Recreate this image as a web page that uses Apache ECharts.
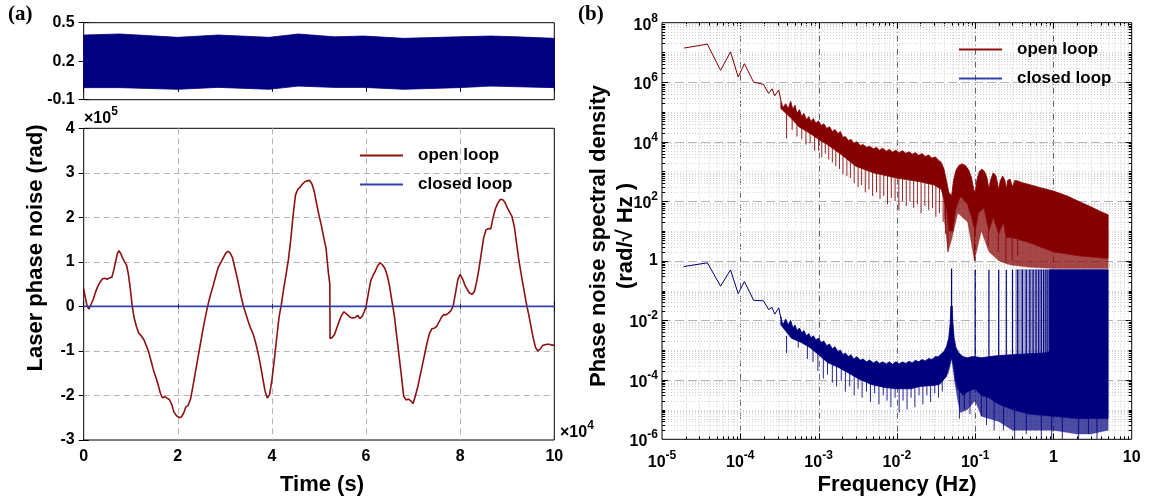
<!DOCTYPE html>
<html>
<head>
<meta charset="utf-8">
<script src="https://cdn.jsdelivr.net/npm/echarts@6/dist/echarts.min.js"></script>
<style>
html,body{margin:0;padding:0;background:#fff;}
#chart{width:1149px;height:497px;}
</style>
</head>
<body>
<div id="chart"></div>
<script>
// ---------- (a) time domain: time in units of 1e4 s, phase in units of 1e5 rad ----------
const openLoopTime = [
  [0.00,0.40],[0.03,0.22],[0.07,0.02],[0.11,-0.06],[0.15,-0.02],[0.20,0.15],[0.25,0.32],[0.30,0.45],
  [0.35,0.55],[0.40,0.62],[0.45,0.63],[0.50,0.61],[0.55,0.64],[0.60,0.66],[0.64,0.82],[0.68,1.02],
  [0.72,1.20],[0.75,1.25],[0.79,1.18],[0.83,1.08],[0.87,1.00],[0.91,0.93],[0.95,0.72],[0.99,0.40],
  [1.03,0.02],[1.07,-0.25],[1.12,-0.45],[1.17,-0.60],[1.22,-0.66],[1.28,-0.75],[1.33,-0.88],[1.38,-1.02],
  [1.43,-1.22],[1.48,-1.42],[1.53,-1.58],[1.58,-1.75],[1.63,-1.95],[1.67,-2.05],[1.72,-2.03],[1.77,-2.06],
  [1.82,-2.09],[1.87,-2.20],[1.92,-2.38],[1.97,-2.45],[2.03,-2.50],[2.08,-2.48],[2.13,-2.38],[2.17,-2.26],
  [2.22,-2.22],[2.27,-2.08],[2.32,-1.80],[2.37,-1.50],[2.42,-1.20],[2.47,-0.90],[2.52,-0.60],[2.57,-0.32],
  [2.62,-0.06],[2.66,0.12],[2.71,0.32],[2.76,0.50],[2.81,0.70],[2.86,0.88],[2.91,0.98],[2.96,1.08],
  [3.01,1.18],[3.06,1.24],[3.11,1.20],[3.16,1.10],[3.20,0.92],[3.25,0.70],[3.30,0.45],[3.35,0.20],
  [3.40,-0.02],[3.45,-0.18],[3.50,-0.35],[3.55,-0.50],[3.60,-0.62],[3.65,-0.80],[3.70,-1.02],[3.75,-1.28],
  [3.80,-1.58],[3.85,-1.88],[3.90,-2.06],[3.95,-1.98],[4.00,-1.65],[4.05,-1.20],[4.10,-0.72],[4.15,-0.25],
  [4.20,0.05],[4.25,0.40],[4.30,0.72],[4.35,1.05],[4.40,1.50],[4.45,2.05],[4.50,2.50],[4.55,2.63],
  [4.60,2.68],[4.65,2.75],[4.70,2.80],[4.75,2.82],[4.80,2.83],[4.85,2.75],[4.90,2.58],[4.95,2.30],
  [5.00,2.05],[5.05,1.82],[5.10,1.55],[5.15,1.30],[5.20,0.75],[5.23,0.50],[5.235,-0.72],[5.28,-0.70],
  [5.33,-0.63],[5.38,-0.48],[5.43,-0.33],[5.48,-0.20],[5.53,-0.12],[5.57,-0.10],[5.62,-0.20],[5.67,-0.25],
  [5.72,-0.26],[5.77,-0.25],[5.82,-0.20],[5.87,-0.27],[5.92,-0.22],[5.96,-0.12],[6.00,0.00],[6.05,0.30],
  [6.10,0.58],[6.15,0.70],[6.20,0.80],[6.25,0.92],[6.30,0.98],[6.35,0.93],[6.40,0.85],[6.45,0.70],
  [6.50,0.45],[6.55,0.12],[6.60,-0.20],[6.65,-0.65],[6.70,-1.10],[6.75,-1.55],[6.80,-2.02],[6.85,-2.10],
  [6.90,-2.08],[6.95,-2.12],[7.00,-2.18],[7.05,-2.00],[7.10,-1.80],[7.15,-1.55],[7.20,-1.30],[7.25,-1.05],
  [7.30,-0.80],[7.35,-0.60],[7.40,-0.50],[7.45,-0.49],[7.50,-0.45],[7.55,-0.35],[7.60,-0.25],[7.65,-0.18],
  [7.70,-0.19],[7.75,-0.15],[7.80,-0.10],[7.85,0.00],[7.90,0.30],[7.95,0.60],[8.00,0.72],[8.05,0.62],
  [8.10,0.48],[8.15,0.38],[8.20,0.30],[8.25,0.27],[8.30,0.33],[8.35,0.55],[8.40,0.85],[8.45,1.20],
  [8.50,1.55],[8.55,1.72],[8.60,1.75],[8.65,1.74],[8.70,2.00],[8.75,2.20],[8.80,2.32],[8.85,2.40],
  [8.90,2.40],[8.95,2.34],[9.00,2.22],[9.05,2.12],[9.10,2.02],[9.15,1.80],[9.20,1.40],[9.25,1.02],
  [9.30,0.70],[9.35,0.40],[9.40,0.10],[9.45,-0.15],[9.50,-0.42],[9.55,-0.70],[9.60,-0.92],[9.65,-1.00],
  [9.70,-0.96],[9.75,-0.88],[9.80,-0.86],[9.85,-0.85],[9.90,-0.85],[9.95,-0.87],[10.00,-0.87]
];
const closedLoopTime = [[0,0],[2,0],[4,0],[6,0],[8,0],[10,0]];
// residual of the locked loop (rad): envelope of the fast oscillation
const residualUpper = [[0,0.404],[0.77,0.412],[2.0,0.386],[2.86,0.404],[3.94,0.386],[4.56,0.412],[5.33,0.39],[5.95,0.396],[6.8,0.378],[7.96,0.39],[8.65,0.396],[9.2,0.39],[10,0.378]];
const residualLower = [[0,-0.006],[0.77,-0.006],[2.0,-0.019],[2.86,-0.004],[3.94,-0.019],[4.56,0.006],[5.33,-0.004],[5.95,-0.004],[6.8,-0.019],[7.96,-0.006],[8.65,0.006],[10,-0.006]];

// ---------- (b) phase noise spectral density: [frequency (Hz), rad/sqrt(Hz)] ----------
// open loop
const openHead = [[1.9e-5,1.4e7],[3.8e-5,1.9e7],[5.6e-5,2.5e6],[7.5e-5,1.05e7],[9.4e-5,1.5e6],[1.13e-4,4.2e6],
  [1.48e-4,1.0e6],[1.98e-4,8.5e5],[2.3e-4,4.2e5],[2.55e-4,6.0e5],[2.75e-4,3.5e5],[3.1e-4,5.5e5],[3.3e-4,2.4e5]];
const openUpper = [[3.3e-4,2.4e5],[3.5e-4,1.4e5],[3.8e-4,1.9e5],[4.1e-4,1.3e5],[4.4e-4,2.3e5],[4.7e-4,1.2e5],
  [5e-4,1.7e5],[5.3e-4,9e4],[5.7e-4,1.2e5],[6.1e-4,7e4],[6.5e-4,9e4],[7e-4,5.5e4],[7.5e-4,7e4],[8e-4,4.8e4],
  [8.6e-4,6e4],[9.2e-4,4.2e4],[1e-3,5e4],[1.08e-3,3.5e4],[1.17e-3,4e4],[1.27e-3,2.8e4],[1.38e-3,3.2e4],
  [1.5e-3,2.2e4],[1.62e-3,2.6e4],[1.76e-3,1.9e4],[1.9e-3,2.2e4],[2.05e-3,1.4e4],[2.2e-3,1.5e4],[2.4e-3,1.1e4],
  [2.6e-3,1.2e4],[2.8e-3,9e3],[3.1e-3,1e4],[3.4e-3,7.5e3],[3.7e-3,8e3],[4.1e-3,6.5e3],[4.5e-3,7e3],[5e-3,5.8e3],
  [5.5e-3,6.5e3],[6e-3,5.2e3],[6.6e-3,6e3],[7.3e-3,4.8e3],[8e-3,5.5e3],[8.8e-3,4.5e3],[9.7e-3,5.2e3],
  [1.07e-2,4.3e3],[1.18e-2,5e3],[1.3e-2,4.1e3],[1.43e-2,4.6e3],[1.57e-2,3.8e3],[1.73e-2,4.3e3],[1.9e-2,3.5e3],
  [2.1e-2,4e3],[2.3e-2,3.2e3],[2.55e-2,3.6e3],[2.8e-2,2.8e3],[3.1e-2,3.1e3],[3.4e-2,2.4e3],[3.7e-2,2e3],
  [4e-2,1.2e3],[4.3e-2,5e2],[4.6e-2,2e2],[5e-2,1.5e2],[5.3e-2,5e2],[5.7e-2,1.1e3],[6.2e-2,1.6e3],[6.8e-2,1.8e3],
  [7.5e-2,1.6e3],[8.3e-2,1.1e3],[9e-2,6e2],[9.6e-2,2.5e2],[0.1,2e2],[0.105,5e2],[0.113,1e3],[0.122,1.2e3],
  [0.132,1e3],[0.142,6e2],[0.15,2.5e2],[0.157,5e2],[0.17,9e2],[0.185,7e2],[0.2,2.5e2],[0.21,5e2],[0.225,7e2],
  [0.24,5e2],[0.25,2.5e2],[0.26,5e2],[0.28,5.5e2],[0.3,3e2],[0.32,5e2],[0.35,4.8e2],[0.4,4.2e2],[0.5,3.6e2],
  [0.7,2.8e2],[1,2.2e2],[1.5,1.5e2],[2,1.05e2],[3,6.5e1],[4,4.5e1],[5,3.5e1]];
const openCore = [[3.3e-4,1.3e5],[4.5e-4,6e4],[5.6e-4,3.2e4],[7.8e-4,1.9e4],[1e-3,1.2e4],[1.3e-3,8e3],
  [2e-3,3.5e3],[3e-3,1.5e3],[5e-3,9e2],[1e-2,6e2],[2e-2,4.5e2],[3e-2,3.5e2],[3.7e-2,2.5e2],[4e-2,1.2e2],
  [4.4e-2,4e1],[4.7e-2,1e1],[5.2e-2,1e1],[5.6e-2,5e1],[6.5e-2,1.5e2],[8e-2,8e1],[9e-2,3e1],[0.1,1e1],
  [0.11,4e1],[0.13,6e1],[0.15,1e1],[0.17,3e1],[0.2,8],[0.23,2e1],[0.25,6],[0.3,6],[0.5,4],[1,2],[2,1.5],[5,1.2]];
const openFloor = [[0.04,3e1],[4.5e-2,2],[5e-2,5],[6e-2,4e1],[8e-2,2e1],[0.098,1],[0.12,1e1],[0.15,2],
  [0.2,1],[0.25,0.8],[0.3,0.7],[0.5,0.6],[1,0.55],[5,0.55]];
// downward noise excursions: [frequency, from, to]
const openDips = [[3.9e-4,1.2e5,1.3e4],[4.6e-4,6e4,2.5e4],[5.3e-4,4e4,1.5e4],[6.1e-4,3e4,1.2e4],[6.9e-4,2.5e4,8e3],
  [7.8e-4,2e4,9e3],[8.9e-4,1.6e4,5e3],[1.0e-3,1.3e4,5e3],[1.1e-3,1.2e4,3e3],[1.22e-3,1e4,4e3],[1.35e-3,8e3,2.5e3],
  [1.5e-3,7e3,2e3],[1.66e-3,6e3,1.5e3],[1.85e-3,5e3,1.2e3],[2.05e-3,4e3,8e2],[2.3e-3,3e3,7e2],[2.55e-3,2.5e3,6e2],
  [2.85e-3,2e3,4e2],[3.2e-3,1.6e3,3e2],[3.55e-3,1.4e3,3.5e2],[3.95e-3,1.2e3,2e2],[4.4e-3,1.1e3,2.5e2],
  [4.9e-3,1e3,1.5e2],[5.5e-3,9e2,2e2],[6.1e-3,8e2,1.2e2],[6.8e-3,8e2,1.5e2],[7.6e-3,7e2,8e1],[8.5e-3,7e2,1.3e2],
  [9.5e-3,6e2,1e2],[1.06e-2,6e2,5e1],[1.18e-2,6e2,1e2],[1.32e-2,5e2,7e1],[1.47e-2,5e2,1e2],[1.64e-2,5e2,6e1],
  [1.83e-2,5e2,8e1],[2.04e-2,4.5e2,4e1],[2.28e-2,4.5e2,7e1],[2.55e-2,4e2,5e1],[2.85e-2,4e2,6e1],[3.15e-2,3.5e2,3e1],
  [3.5e-2,3e2,4e1],[3.9e-2,2e2,2e1],[4.2e-2,1e2,8],[4.5e-2,4e1,2],[0.098,1e1,1],[0.147,1e1,3],[0.197,8,2],
  [0.247,6,1],[0.297,6,1],[0.35,5,1.5]];

// closed loop
const closedHead = [[1.9e-5,0.64],[3.8e-5,0.85],[5.6e-5,0.14],[7.5e-5,0.49],[9.4e-5,0.079],[1.13e-4,0.2],
  [1.48e-4,0.047],[1.98e-4,0.045],[2.3e-4,0.023],[2.55e-4,0.027],[2.75e-4,0.016],[3.1e-4,0.026],[3.3e-4,0.012]];
const closedUpper = [[3.3e-4,1.3e-2],[3.5e-4,7e-3],[3.8e-4,1.1e-2],[4.1e-4,7e-3],[4.4e-4,1e-2],[4.7e-4,5.5e-3],
  [5e-4,7e-3],[5.3e-4,4.5e-3],[5.7e-4,5.5e-3],[6.1e-4,3.8e-3],[6.5e-4,4.5e-3],[7e-4,3e-3],[7.5e-4,3.6e-3],
  [8e-4,2.6e-3],[8.6e-4,3e-3],[9.2e-4,2.2e-3],[1e-3,2.5e-3],[1.08e-3,1.8e-3],[1.17e-3,2e-3],[1.27e-3,1.4e-3],
  [1.38e-3,1.6e-3],[1.5e-3,1.1e-3],[1.62e-3,1.3e-3],[1.76e-3,9e-4],[1.9e-3,1e-3],[2.05e-3,7e-4],[2.2e-3,8e-4],
  [2.4e-3,6e-4],[2.6e-3,7e-4],[2.8e-3,5e-4],[3.1e-3,6e-4],[3.4e-3,4.5e-4],[3.7e-3,5e-4],[4.1e-3,4e-4],
  [4.5e-3,4.6e-4],[5e-3,3.7e-4],[5.5e-3,4.3e-4],[6e-3,3.5e-4],[6.6e-3,4e-4],[7.3e-3,3.4e-4],[8e-3,4e-4],
  [8.8e-3,3.3e-4],[9.7e-3,4e-4],[1.07e-2,3.4e-4],[1.18e-2,4e-4],[1.3e-2,3.5e-4],[1.43e-2,4.2e-4],[1.57e-2,3.7e-4],
  [1.73e-2,4.5e-4],[1.9e-2,4e-4],[2.1e-2,4.8e-4],[2.3e-2,4.3e-4],[2.55e-2,5.2e-4],[2.8e-2,4.8e-4],[3.1e-2,6e-4],
  [3.4e-2,6e-4],[3.7e-2,7.5e-4],[4e-2,9e-4],[4.3e-2,1.3e-3],[4.6e-2,2.5e-3],[4.8e-2,8e-3],[4.9e-2,3e-2],
  [5.1e-2,3e-2],[5.2e-2,8e-3],[5.4e-2,2.5e-3],[5.7e-2,1.2e-3],[6.2e-2,8e-4],[7e-2,6e-4],[8e-2,5.5e-4],
  [0.09,6e-4],[0.1,6e-4],[0.12,5.5e-4],[0.15,6e-4],[0.2,6.5e-4],[0.3,7e-4],[0.5,7.5e-4],[0.8,8e-4],[1,1e-3],[5,1e-3]];
const closedCore = [[3.3e-4,7e-3],[4.5e-4,2.5e-3],[6e-4,1.8e-3],[7.8e-4,1.2e-3],[1e-3,7e-4],[1.3e-3,3.8e-4],
  [1.8e-3,2.6e-4],[2.5e-3,1.6e-4],[3.2e-3,1.1e-4],[4.7e-3,7e-5],[7e-3,5.5e-5],[1e-2,5e-5],[1.5e-2,5e-5],
  [2e-2,6e-5],[3e-2,6.5e-5],[3.5e-2,7e-5],[4.3e-2,1.3e-4],[4.7e-2,3e-4],[5e-2,6e-4],[5.3e-2,3e-4],[5.6e-2,1e-4],
  [6e-2,5e-5],[7e-2,3e-5],[8e-2,4e-5],[0.1,5e-5],[0.12,3e-5],[0.15,2.5e-5],[0.2,1.5e-5],[0.3,1e-5],[0.5,7e-6],
  [1,6e-6],[2,5e-6],[5,5e-6]];
const closedFloor = [[4.5e-2,1.5e-4],[5e-2,5e-4],[5.5e-2,8e-5],[6e-2,2e-5],[6.5e-2,8e-6],[8e-2,1e-5],[0.1,2e-5],
  [0.12,6e-6],[0.2,4e-6],[0.3,2e-6],[0.5,2e-6],[1,2e-6],[2,1.5e-6],[3,1.5e-6],[5,2e-6]];
const closedDips = [[3.9e-4,3e-3,8e-4],[5.5e-4,2.5e-3,1.2e-3],[7.2e-4,1.5e-3,5e-4],[8.5e-4,1.2e-3,4e-4],
  [9.8e-4,9e-4,2e-4],[1.15e-3,6e-4,1.1e-4],[1.3e-3,5e-4,1.5e-4],[1.5e-3,4e-4,8e-5],[1.7e-3,3.5e-4,6e-5],
  [1.95e-3,3e-4,9e-5],[2.2e-3,2.5e-4,4e-5],[2.5e-3,2.3e-4,6e-5],[2.85e-3,2e-4,3e-5],[3.2e-3,2e-4,5e-5],
  [3.6e-3,1.8e-4,2.5e-5],[4.1e-3,1.8e-4,4e-5],[4.6e-3,1.7e-4,1.8e-5],[5.2e-3,1.7e-4,3.5e-5],[5.9e-3,1.6e-4,1.5e-5],
  [6.7e-3,1.6e-4,3e-5],[7.5e-3,1.5e-4,2e-5],[8.4e-3,1.5e-4,1.2e-5],[9.5e-3,1.5e-4,2.5e-5],[1.07e-2,1.5e-4,8e-6],
  [1.2e-2,1.6e-4,2e-5],[1.35e-2,1.6e-4,1e-5],[1.52e-2,1.7e-4,2.5e-5],[1.7e-2,1.7e-4,1.2e-5],[1.92e-2,1.8e-4,3e-5],
  [2.15e-2,1.8e-4,1.5e-5],[2.42e-2,2e-4,3e-5],[2.7e-2,2e-4,1.8e-5],[3.05e-2,2.2e-4,3.5e-5],[3.4e-2,2.4e-4,2.5e-5],
  [3.8e-2,2.8e-4,4e-5],[6.3e-2,1.2e-4,5e-6],[7.3e-2,1e-4,1e-5],[8.6e-2,1e-4,7e-6],[0.12,8e-5,6e-6],
  [0.14,7e-5,3e-6],[0.175,6e-5,2e-6],[0.23,5e-5,2e-6],[0.32,4e-5,1e-6],[0.45,3e-5,1.5e-6],[0.7,3e-5,1e-6],
  [0.95,3e-5,1e-6],[1.3,2.5e-5,1e-6],[2.1,2e-5,1e-6],[2.8,2e-5,1.5e-6],[3.6,2e-5,1e-6]];
// residual harmonics of the 0.05 Hz disturbance: [frequency, peak, foot]
const closedSpikes = [[0.05,0.55,1e-3],[0.1,0.5,6e-4],[0.15,0.5,6e-4],[0.2,0.5,6e-4],[0.25,0.5,6e-4],[0.3,0.5,7e-4],
  [0.35,0.5,7e-4],[0.4,0.5,7e-4],[0.45,0.5,7e-4],[0.5,0.5,7e-4],[0.55,0.5,7e-4],[0.6,0.5,7e-4],[0.65,0.5,8e-4],
  [0.7,0.5,8e-4],[0.75,0.5,8e-4],[0.8,0.5,8e-4],[0.85,0.5,8e-4],[0.9,0.5,8e-4],[0.95,0.5,8e-4],[1.0,0.5,1e-3]];
const closedCombLight = [[0.33,0.5],[0.9,0.5]];
const closedCombLightFoot = [[0.33,7e-4],[0.9,8e-4]];
const closedComb = [[0.9,0.5],[5,0.5]];
const closedCombFoot = [[0.9,8e-4],[5,1e-3]];

// ---------- styling ----------
const SANS = 'Liberation Sans, Arial, sans-serif';
const SERIF = 'Liberation Serif, Times New Roman, serif';
const RED = '#850000';
const NAVY = '#00007f';
const LINE_RED = '#8e1010';
const LINE_BLUE = '#3341a8';

const chart = echarts.init(document.getElementById('chart'), null, {renderer: 'canvas'});

const tickStyle = {show: true, inside: true, length: 5, lineStyle: {color: '#000', width: 1}};
const labelStyle = {color: '#000', fontSize: 16, fontWeight: 'bold', fontFamily: SANS};

function powLabel(v) {
  const e = Math.round(Math.log10(v));
  if (e === 0) return '{b|1}';
  if (e === 1) return '{b|10}';
  return '{b|10}{e|' + e + '}';
}
const powRich = {
  b: {fontSize: 16, fontWeight: 'bold', fontFamily: SANS, color: '#000', verticalAlign: 'bottom'},
  e: {fontSize: 12, fontWeight: 'bold', fontFamily: SANS, color: '#000', verticalAlign: 'bottom', padding: [0, 0, 9, 0]}
};

function linAxis(grid, pos, min, max, interval, showLabel, fmt) {
  return {
    type: 'value', gridIndex: grid, position: pos, min, max, interval,
    axisLine: {show: false}, axisTick: tickStyle, splitLine: {show: false},
    axisLabel: showLabel ? Object.assign({show: true, margin: 9, formatter: fmt}, labelStyle) : {show: false}
  };
}
function logAxis(grid, pos, min, max, interval, showLabel, margin, fmt) {
  return {
    type: 'log', logBase: 10, gridIndex: grid, position: pos, min, max, interval,
    axisLine: {show: false}, axisTick: {show: false}, splitLine: {show: false},
    axisLabel: showLabel ? {show: true, margin, formatter: fmt || powLabel, rich: powRich} : {show: false}
  };
}

// filled region between two envelopes, mapped through the axes
function band(upper, lower, fill, xi, yi, z, stroke) {
  return {
    type: 'custom', xAxisIndex: xi, yAxisIndex: yi, z, silent: true, clip: true,
    data: [upper[0]],
    renderItem(params, api) {
      const pts = upper.map(p => api.coord(p)).concat(lower.slice().reverse().map(p => api.coord(p)));
      return {type: 'polygon', shape: {points: pts}, style: {fill, stroke: stroke || fill, lineWidth: 0.8}};
    }
  };
}
// vertical strokes [x, y1, y2]
function strokes(list, color, width, xi, yi, z) {
  return {
    type: 'custom', xAxisIndex: xi, yAxisIndex: yi, z, silent: true, clip: true,
    data: list,
    renderItem(params, api) {
      const a = api.coord([api.value(0), api.value(1)]);
      const b = api.coord([api.value(0), api.value(2)]);
      return {type: 'line', shape: {x1: a[0], y1: a[1], x2: b[0], y2: b[1]}, style: {stroke: color, lineWidth: width}};
    }
  };
}

// log-grid decorations of panel (b)
const psdGrid = {
  type: 'custom', xAxisIndex: 4, yAxisIndex: 4, z: 1, silent: true,
  data: [[1e-3, 1]],
  renderItem(params, api) {
    const cs = params.coordSys;
    const x0 = cs.x, x1 = cs.x + cs.width, y0 = cs.y, y1 = cs.y + cs.height;
    const kids = [];
    const seg = (a, b, c, d, style) => kids.push({type: 'line', shape: {x1: a, y1: b, x2: c, y2: d}, style});
    const minorSt = {stroke: '#d2d2d2', lineWidth: 1, lineDash: [1, 2]};
    const majorV = {stroke: '#666', lineWidth: 1, lineDash: [6, 3, 1, 3]};
    const majorH = {stroke: '#b4b4b4', lineWidth: 1.2, lineDash: [9, 4]};
    const tk = {stroke: '#000', lineWidth: 1};
    for (let n = -5; n <= 0; n++) {
      for (let k = 1; k <= 9; k++) {
        const f = k * Math.pow(10, n);
        if (f <= 1e-5 * 1.001) continue;
        const px = Math.round(api.coord([f, 1])[0]) + 0.5;
        seg(px, y0, px, y1, k === 1 ? majorV : minorSt);
        const t = k === 1 ? 6 : 3;
        seg(px, y1, px, y1 - t, tk); seg(px, y0, px, y0 + t, tk);
      }
    }
    for (let n = -6; n <= 7; n++) {
      for (let k = 1; k <= 9; k++) {
        const v = k * Math.pow(10, n);
        if (v <= 1e-6 * 1.001) continue;
        const py = Math.round(api.coord([1, v])[1]) + 0.5;
        const major = (k === 1 && n % 2 === 0);
        seg(x0, py, x1, py, major ? majorH : minorSt);
        const t = major ? 6 : 3;
        seg(x0, py, x0 + t, py, tk); seg(x1, py, x1 - t, py, tk);
      }
    }
    return {type: 'group', children: kids};
  }
};

// dashed grid of the time-domain panel
const timeGrid = {
  type: 'custom', xAxisIndex: 2, yAxisIndex: 2, z: 1, silent: true,
  data: [[0, 0]],
  renderItem(params, api) {
    const cs = params.coordSys;
    const kids = [];
    const st = {stroke: '#b4b4b4', lineWidth: 1, lineDash: [6, 4]};
    [2, 4, 6, 8].forEach(t => {
      const px = Math.round(api.coord([t, 0])[0]) + 0.5;
      kids.push({type: 'line', shape: {x1: px, y1: cs.y, x2: px, y2: cs.y + cs.height}, style: st});
    });
    [-2, -1, 0, 1, 2, 3].forEach(v => {
      const py = Math.round(api.coord([0, v])[1]) + 0.5;
      kids.push({type: 'line', shape: {x1: cs.x, y1: py, x2: cs.x + cs.width, y2: py}, style: st});
    });
    return {type: 'group', children: kids};
  }
};

const legendText = {color: '#000', fontSize: 17, fontWeight: 'bold', fontFamily: SANS, padding: [0, 0, 0, 10]};
const gridBox = {show: true, borderColor: '#000', borderWidth: 1, backgroundColor: 'transparent', outerBoundsMode: 'none'};
const supRich = {
  m: {font: 'bold 16px ' + SANS, fill: '#000', verticalAlign: 'bottom'},
  e: {font: 'bold 12px ' + SANS, fill: '#000', verticalAlign: 'bottom', padding: [0, 0, 9, 0]}
};
const from = (list, f0) => list.filter(p => p[0] >= f0);

const option = {
  backgroundColor: '#fff',
  animation: false,
  grid: [
    Object.assign({left: 83.7, top: 22.7, width: 470.6, height: 77}, gridBox),
    Object.assign({left: 83.7, top: 128.3, width: 470.6, height: 311.7}, gridBox),
    Object.assign({left: 662, top: 22.7, width: 469.7, height: 416.6}, gridBox)
  ],
  xAxis: [
    linAxis(0, 'bottom', 0, 10, 2, false),
    linAxis(0, 'top', 0, 10, 2, false),
    linAxis(1, 'bottom', 0, 10, 2, true, v => String(v)),
    linAxis(1, 'top', 0, 10, 2, false),
    logAxis(2, 'bottom', 1e-5, 10, 1, true, 10),
    logAxis(2, 'top', 1e-5, 10, 1, false)
  ],
  yAxis: [
    linAxis(0, 'left', -0.1, 0.5, 0.3, true, v => v.toFixed(1)),
    linAxis(0, 'right', -0.1, 0.5, 0.3, false),
    linAxis(1, 'left', -3, 4, 1, true, v => String(Math.round(v))),
    linAxis(1, 'right', -3, 4, 1, false),
    logAxis(2, 'left', 1e-6, 1e8, 2, true, 4, v => (Math.round(Math.log10(v)) % 2 === 0 ? powLabel(v) : '')),
    logAxis(2, 'right', 1e-6, 1e8, 2, false)
  ],
  legend: [
    {data: ['open loop', 'closed loop'], left: 355, top: 142, orient: 'vertical', icon: 'rect',
      itemWidth: 43, itemHeight: 2, itemGap: 12, selectedMode: false, textStyle: legendText},
    {data: ['open loop', 'closed loop'], left: 954, top: 36, orient: 'vertical', icon: 'rect',
      itemWidth: 43, itemHeight: 2, itemGap: 12, selectedMode: false, textStyle: legendText}
  ],
  series: [
    band(residualUpper, residualLower, '#000080', 0, 0, 3),
    timeGrid,
    {name: 'open loop', type: 'line', xAxisIndex: 2, yAxisIndex: 2, data: openLoopTime, showSymbol: false,
      lineStyle: {color: LINE_RED, width: 1.6}, itemStyle: {color: LINE_RED}, z: 3},
    {name: 'closed loop', type: 'line', xAxisIndex: 2, yAxisIndex: 2, data: closedLoopTime, showSymbol: false,
      lineStyle: {color: LINE_BLUE, width: 1.6}, itemStyle: {color: LINE_BLUE}, z: 4},
    psdGrid,
    // open loop spectrum
    {type: 'line', xAxisIndex: 4, yAxisIndex: 4, data: openHead, showSymbol: false, silent: true,
      lineStyle: {color: RED, width: 1}, z: 3},
    band(from(openCore, 0.04), openFloor, 'rgba(133,0,0,0.72)', 4, 4, 3, 'rgba(133,0,0,0.3)'),
    strokes(openDips, 'rgba(133,0,0,0.85)', 1, 4, 4, 3),
    band(openUpper, openCore, RED, 4, 4, 3),
    // closed loop spectrum
    {type: 'line', xAxisIndex: 4, yAxisIndex: 4, data: closedHead, showSymbol: false, silent: true,
      lineStyle: {color: NAVY, width: 1}, z: 4},
    band(from(closedCore, 0.045), closedFloor, 'rgba(0,0,127,0.7)', 4, 4, 4, 'rgba(0,0,127,0.3)'),
    strokes(closedDips, 'rgba(0,0,127,0.85)', 1, 4, 4, 4),
    band(closedUpper, closedCore, NAVY, 4, 4, 4),
    band(closedCombLight, closedCombLightFoot, 'rgba(0,0,127,0.35)', 4, 4, 4),
    strokes(closedSpikes, NAVY, 1.2, 4, 4, 4),
    band(closedComb, closedCombFoot, NAVY, 4, 4, 4)
  ],
  graphic: [
    {type: 'text', left: 8, top: 4, style: {text: '(a)', font: 'bold 21px ' + SERIF, fill: '#000'}},
    {type: 'text', left: 578, top: 4, style: {text: '(b)', font: 'bold 21px ' + SERIF, fill: '#000'}},
    {type: 'text', left: 84, top: 106, style: {text: '{m|×10}{e|5}', rich: supRich}},
    {type: 'text', left: 560, top: 420, style: {text: '{m|×10}{e|4}', rich: supRich}},
    {type: 'text', x: 322, y: 485, style: {text: 'Time (s)', font: 'bold 22px ' + SANS, fill: '#000', align: 'center', verticalAlign: 'middle'}},
    {type: 'text', x: 897, y: 485, style: {text: 'Frequency (Hz)', font: 'bold 22px ' + SANS, fill: '#000', align: 'center', verticalAlign: 'middle'}},
    {type: 'text', x: 36, y: 248, rotation: Math.PI / 2, style: {text: 'Laser phase noise (rad)', font: 'bold 22px ' + SANS, fill: '#000', align: 'center', verticalAlign: 'middle'}},
    {type: 'text', x: 599, y: 236, rotation: Math.PI / 2, style: {text: 'Phase noise spectral density', font: 'bold 22px ' + SANS, fill: '#000', align: 'center', verticalAlign: 'middle'}},
    {type: 'text', x: 626, y: 236, rotation: Math.PI / 2, style: {text: '(rad/√ Hz )', font: 'bold 22px ' + SANS, fill: '#000', align: 'center', verticalAlign: 'middle'}}
  ]
};
chart.setOption(option);
</script>
</body>
</html>
